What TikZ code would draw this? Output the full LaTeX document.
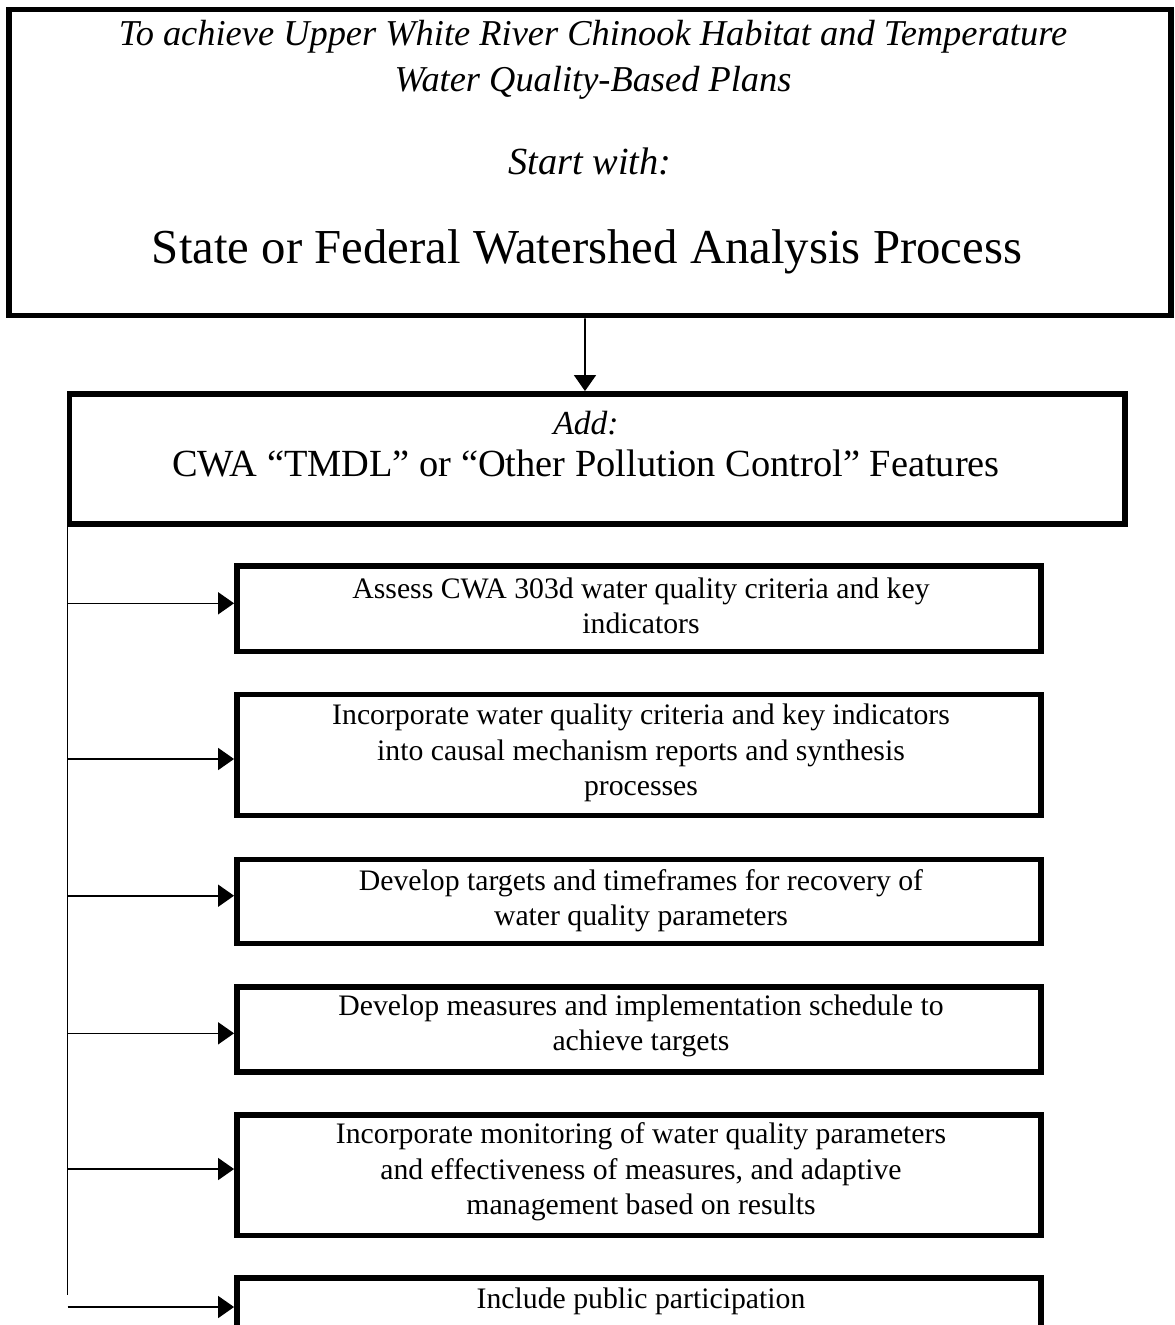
\documentclass[tikz,border=0pt]{standalone}
\usepackage{fontspec}
\setmainfont{Liberation Serif}
\usetikzlibrary{arrows.meta}
\begin{document}
\begin{tikzpicture}[x=0.75pt,y=-0.75pt,
  boxline/.style={draw,line width=4.4pt,inner sep=0pt,fill=none},
  smallbox/.style={boxline,minimum width=603pt},
  smalltext/.style={align=center,inner sep=0pt,font=\fontsize{22.3pt}{26.5pt}\selectfont},
  conn/.style={line width=1.2pt,-{Triangle[length=12pt,width=16.5pt]}},
  trunk/.style={line width=1.2pt}
]
\useasboundingbox (0,0) rectangle (1175,1325);
\clip (0,0) rectangle (1175,1325);

% top box
\node[boxline,minimum width=871.5pt,minimum height=229.5pt] (top) at (590,162.5) {};
\node[align=center,inner sep=0pt,font=\itshape\fontsize{27.3pt}{34.5pt}\selectfont] (topl) at (593,60)
  {To achieve Upper White River Chinook Habitat and Temperature\\Water Quality-Based Plans};
\node[inner sep=0pt,font=\itshape\fontsize{28.8pt}{34pt}\selectfont] (start) at (590,161) {Start with:};
\node[inner sep=0pt,font=\fontsize{36.6pt}{42pt}\selectfont] (state) at (587,252) {State or Federal Watershed Analysis Process};

% second box
\node[boxline,minimum width=791.6pt,minimum height=97.5pt] (add) at (597.25,459) {};
\node[inner sep=0pt,font=\itshape\fontsize{25.2pt}{30pt}\selectfont] (addl) at (586,423) {Add:};
\node[inner sep=0pt,font=\fontsize{28.8pt}{34pt}\selectfont] (cwa) at (586,463) {CWA “TMDL” or “Other Pollution Control” Features};

% arrow top -> second
\draw[conn] ([xshift=-3.75pt]top.south) -- ([xshift=-9.2pt]add.north);

% small boxes
\node[smallbox,minimum height=64.1pt] (b1) at (639,608.75) {};
\node[smallbox,minimum height=90.75pt] (b2) at (639,755) {};
\node[smallbox,minimum height=63pt] (b3) at (639,901.5) {};
\node[smallbox,minimum height=64pt] (b4) at (639,1029.3) {};
\node[smallbox,minimum height=90.4pt] (b5) at (639,1175.25) {};
\node[smallbox,minimum height=63.75pt] (b6) at (639,1320.5) {};

\node[smalltext] (b1t) at (641,606) {Assess CWA 303d water quality criteria and key\\indicators};
\node[smalltext] (b2t) at (641,753) {Incorporate water quality criteria and key indicators\\into causal mechanism reports and synthesis\\processes};
\node[smalltext] (b3t) at (641,901) {Develop targets and timeframes for recovery of\\water quality parameters};
\node[smalltext] (b4t) at (641,1026) {Develop measures and implementation schedule to\\achieve targets};
\node[smalltext] (b5t) at (641,1172) {Incorporate monitoring of water quality parameters\\and effectiveness of measures, and adaptive\\management based on results};
\node[smalltext] (b6t) at (641,1301) {Include public participation};

% trunk and branches
\coordinate (trtop) at (67.5,526);
\coordinate (trbot) at (67.5,1295);
\draw[trunk] (trtop) -- (trbot);
\coordinate (t1) at (67.5,603.3);
\coordinate (t2) at (67.5,759);
\coordinate (t3) at (67.5,895.7);
\coordinate (t4) at (67.5,1033.3);
\coordinate (t5) at (67.5,1169);
\coordinate (t6) at (67.5,1307);
\draw[conn] (t1) -- (t1 -| b1.west);
\draw[conn] (t2) -- (t2 -| b2.west);
\draw[conn] (t3) -- (t3 -| b3.west);
\draw[conn] (t4) -- (t4 -| b4.west);
\draw[conn] (t5) -- (t5 -| b5.west);
\draw[conn] (t6) -- (t6 -| b6.west);
\end{tikzpicture}
\end{document}
